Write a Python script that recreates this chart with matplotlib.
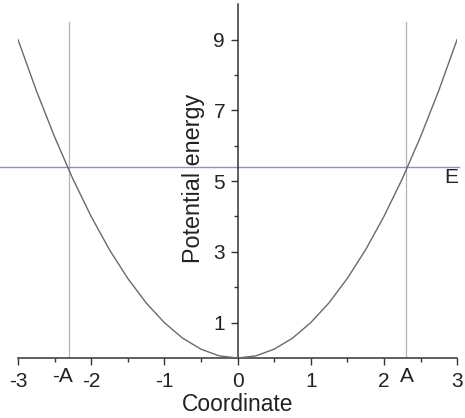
import numpy as np
import matplotlib
matplotlib.use("Agg")
import matplotlib.pyplot as plt

plt.rcParams["font.family"] = ["Liberation Sans", "DejaVu Sans"]

# potential curve sampled along the coordinate axis
coord = [-3.0, -2.75, -2.5, -2.25, -2.0, -1.75, -1.5, -1.25, -1.0, -0.75, -0.5, -0.25,
         0.0, 0.25, 0.5, 0.75, 1.0, 1.25, 1.5, 1.75, 2.0, 2.25, 2.5, 2.75, 3.0]
energy = [9.0, 7.56, 6.25, 5.06, 4.0, 3.06, 2.25, 1.56, 1.0, 0.56, 0.25, 0.06,
          0.0, 0.06, 0.25, 0.56, 1.0, 1.56, 2.25, 3.06, 4.0, 5.06, 6.25, 7.56, 9.0]

total_energy = 5.4
amplitude = 2.3
turning_top = 9.5

x_ticks = [-3, -2, -1, 0, 1, 2, 3]
y_ticks = [1, 3, 5, 7, 9]

fig = plt.figure(figsize=(4.65, 4.18), dpi=100)
ax = fig.add_axes([0.0387, 0.1435, 0.9443, 0.8465])

# turning points
for xa in (-amplitude, amplitude):
    ax.plot([xa, xa], [0, turning_top], color="#b4b4b4", lw=0.9, zorder=1)

# energy level
ax.plot([-3.25, 3.03], [total_energy, total_energy], color="#8a8ae6", lw=1.0,
        clip_on=False, zorder=2)

ax.plot(coord, energy, color="#6a6a6a", lw=1.0, zorder=3)

ax.set_xlim(-3, 3)
ax.set_ylim(0, 10)

for s in ("top", "right"):
    ax.spines[s].set_visible(False)
ax.spines["left"].set_position(("data", 0))
for s in ("left", "bottom"):
    ax.spines[s].set_color("#333333")
    ax.spines[s].set_linewidth(1.1)

ax.set_xticks(x_ticks)
ax.set_xticklabels([str(v) for v in x_ticks])
ax.set_xticks(np.arange(-2.5, 3, 1.0), minor=True)
ax.set_yticks(y_ticks)
ax.set_yticks([2, 4, 6, 8], minor=True)
ax.tick_params(which="major", direction="out", length=5, width=1, color="#333333",
               labelsize=15, labelcolor="#222222")
ax.tick_params(which="minor", direction="out", length=3, width=1, color="#333333")
ax.tick_params(axis="x", pad=5)
ax.tick_params(axis="y", pad=4)

ax.text(-2.39, -0.25, "-A", ha="center", va="top", fontsize=15, color="#222222")
ax.text(2.32, -0.25, "A", ha="center", va="top", fontsize=15, color="#222222")
ax.text(2.92, 5.36, "E", ha="center", va="top", fontsize=15, color="#222222")

ax.text(0, -1.0, "Coordinate", ha="center", va="top", fontsize=16.4, color="#222222")
ax.text(-0.60, 5.08, "Potential energy", ha="center", va="center", rotation=90,
        fontsize=16.8, color="#222222")

fig.savefig("out.png", dpi=100, facecolor="white")
